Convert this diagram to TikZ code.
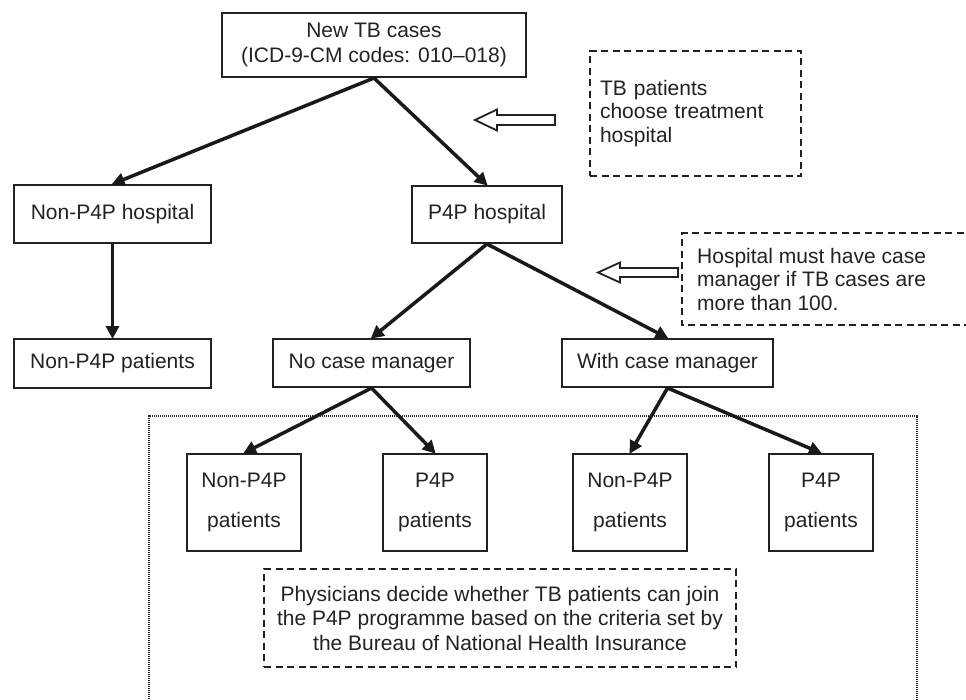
\documentclass[tikz,border=0pt]{standalone}
\usepackage{fontspec}
\setmainfont{Liberation Sans}
\usetikzlibrary{arrows.meta}
\newcommand\myfs{\fontsize{21}{24}\selectfont}
\definecolor{ink}{HTML}{222222}
\begin{document}
\begin{tikzpicture}[x=1pt,y=-1pt,
  box/.style={draw=ink, line width=2pt, inner sep=0pt, align=center, font=\myfs, text=ink},
  dbox/.style={draw=ink, line width=2.8pt, dash pattern=on 7pt off 4.5pt, inner sep=0pt, font=\myfs, text=ink},
  dline/.style={draw=ink, line width=2.8pt, dash pattern=on 7pt off 4.5pt},
  dotline/.style={draw=ink, line width=2.5pt, dash pattern=on 1.2pt off 0.8pt},
  conn/.style={draw=black!90, line width=3.5pt, -{Triangle[length=13pt,width=13pt]}, shorten >=-1pt},
  hollow/.style={draw=ink, line width=1.8pt, fill=white, line join=miter},
  txt/.style={inner sep=0pt, font=\myfs, text=ink}]
\useasboundingbox (0,0) rectangle (966,699);
\clip (0,0) rectangle (966,699);
% dotted enclosure
\draw[dotline] (149,705) -- (149,416) -- (917,416) -- (917,705);
% nodes
\node[box, minimum width=304pt, minimum height=64pt, font=\fontsize{21}{25}\selectfont] (top) at (374,45)
  {New TB cases\\(ICD-9-CM codes: 010--018)};
\node[box, minimum width=197pt, minimum height=58pt] (nph) at (112.5,214) {Non-P4P hospital};
\node[box, minimum width=197pt, minimum height=49pt] (npp) at (112.5,363.5) {Non-P4P patients};
\node[box, minimum width=150pt, minimum height=57pt] (ph) at (487,214.5) {P4P hospital};
\node[box, minimum width=197pt, minimum height=48pt] (ncm) at (371.5,363) {No case manager};
\node[box, minimum width=211pt, minimum height=48pt] (wcm) at (667.5,363) {With case manager};
\node[box, minimum width=114pt, minimum height=97pt, font=\fontsize{21}{40}\selectfont] (b1) at (244,502.5) {Non-P4P\\patients};
\node[box, minimum width=104pt, minimum height=97pt, font=\fontsize{21}{40}\selectfont] (b2) at (435,502.5) {P4P\\patients};
\node[box, minimum width=114pt, minimum height=97pt, font=\fontsize{21}{40}\selectfont] (b3) at (630,502.5) {Non-P4P\\patients};
\node[box, minimum width=104pt, minimum height=97pt, font=\fontsize{21}{40}\selectfont] (b4) at (821,502.5) {P4P\\patients};
% dashed notes
\node[dbox, minimum width=211pt, minimum height=125pt, text width=191pt, align=left, font=\fontsize{21}{23.5}\selectfont] (n1) at (695.5,113.5)
  {TB patients\\choose treatment\\hospital};
\draw[dline] (975,233) -- (682,233) -- (682,325) -- (975,325);
\node[txt, anchor=west, align=left, font=\fontsize{21}{23.5}\selectfont] (n2) at (697,279)
  {Hospital must have case\\manager if TB cases are\\more than 100.};
\node[dbox, minimum width=472pt, minimum height=98pt, align=center, font=\fontsize{21}{24.5}\selectfont] (n3) at (500,618)
  {Physicians decide whether TB patients can join\\the P4P programme based on the criteria set by\\the Bureau of National Health Insurance};
% connectors
\draw[conn] (top.south) -- (nph.north);
\draw[conn] (top.south) -- (ph.north);
\draw[conn] (nph.south) -- (npp.north);
\draw[conn] (ph.south) -- (ncm.north);
\draw[conn] (ph.south) -- (wcm.north);
\draw[conn] (ncm.south) -- (b1.north);
\draw[conn] (ncm.south) -- (b2.north);
\draw[conn] (wcm.south) -- (b3.north);
\draw[conn] (wcm.south) -- (b4.north);
% hollow block arrows
\draw[hollow] (475,120) -- (497,109.5) -- (497,115) -- (555,115) -- (555,125) -- (497,125) -- (497,130.5) -- cycle;
\draw[hollow] (598,272.5) -- (620,262.5) -- (620,268) -- (678,268) -- (678,277) -- (620,277) -- (620,282.5) -- cycle;
\end{tikzpicture}
\end{document}
